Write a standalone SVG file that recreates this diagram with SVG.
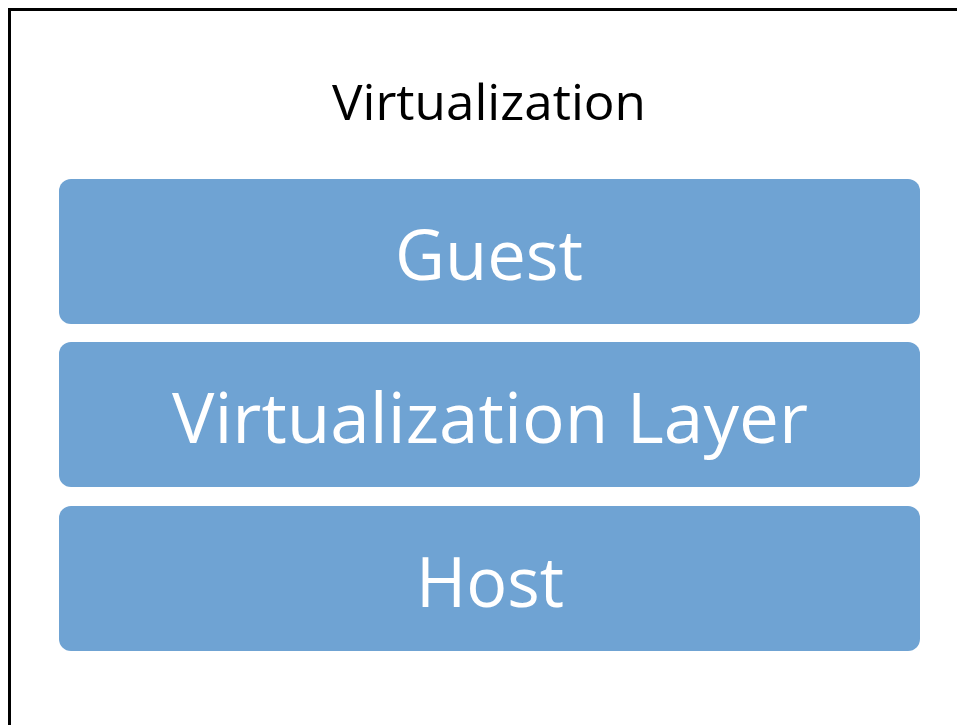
<svg xmlns="http://www.w3.org/2000/svg" width="957" height="725" viewBox="0 0 957 725">
<style>
.layer rect{fill:#6fa3d3;}
.layer text{fill:#fff;font-family:"Open Sans","Liberation Sans",sans-serif;font-size:70px;text-anchor:middle;}
.title{fill:#000;font-family:"Open Sans","Liberation Sans",sans-serif;font-size:50px;text-anchor:middle;}
</style>
<rect x="0" y="0" width="957" height="725" fill="#fff"/>
<rect x="9.5" y="9.5" width="960" height="730" fill="none" stroke="#000" stroke-width="3"/>
<text class="title" x="489" y="120" textLength="314" lengthAdjust="spacingAndGlyphs">Virtualization</text>
<g id="guest" class="layer">
<rect x="59" y="179" width="861" height="145" rx="12"/>
<text x="489" y="280" textLength="188" lengthAdjust="spacingAndGlyphs">Guest</text>
</g>
<g id="virtualization-layer" class="layer">
<rect x="59" y="342" width="861" height="145" rx="12"/>
<text x="490" y="443" textLength="636" lengthAdjust="spacingAndGlyphs">Virtualization Layer</text>
</g>
<g id="host" class="layer">
<rect x="59" y="506" width="861" height="145" rx="12"/>
<text x="490" y="607" textLength="148" lengthAdjust="spacingAndGlyphs">Host</text>
</g>
<g id="connectors"/>
</svg>
